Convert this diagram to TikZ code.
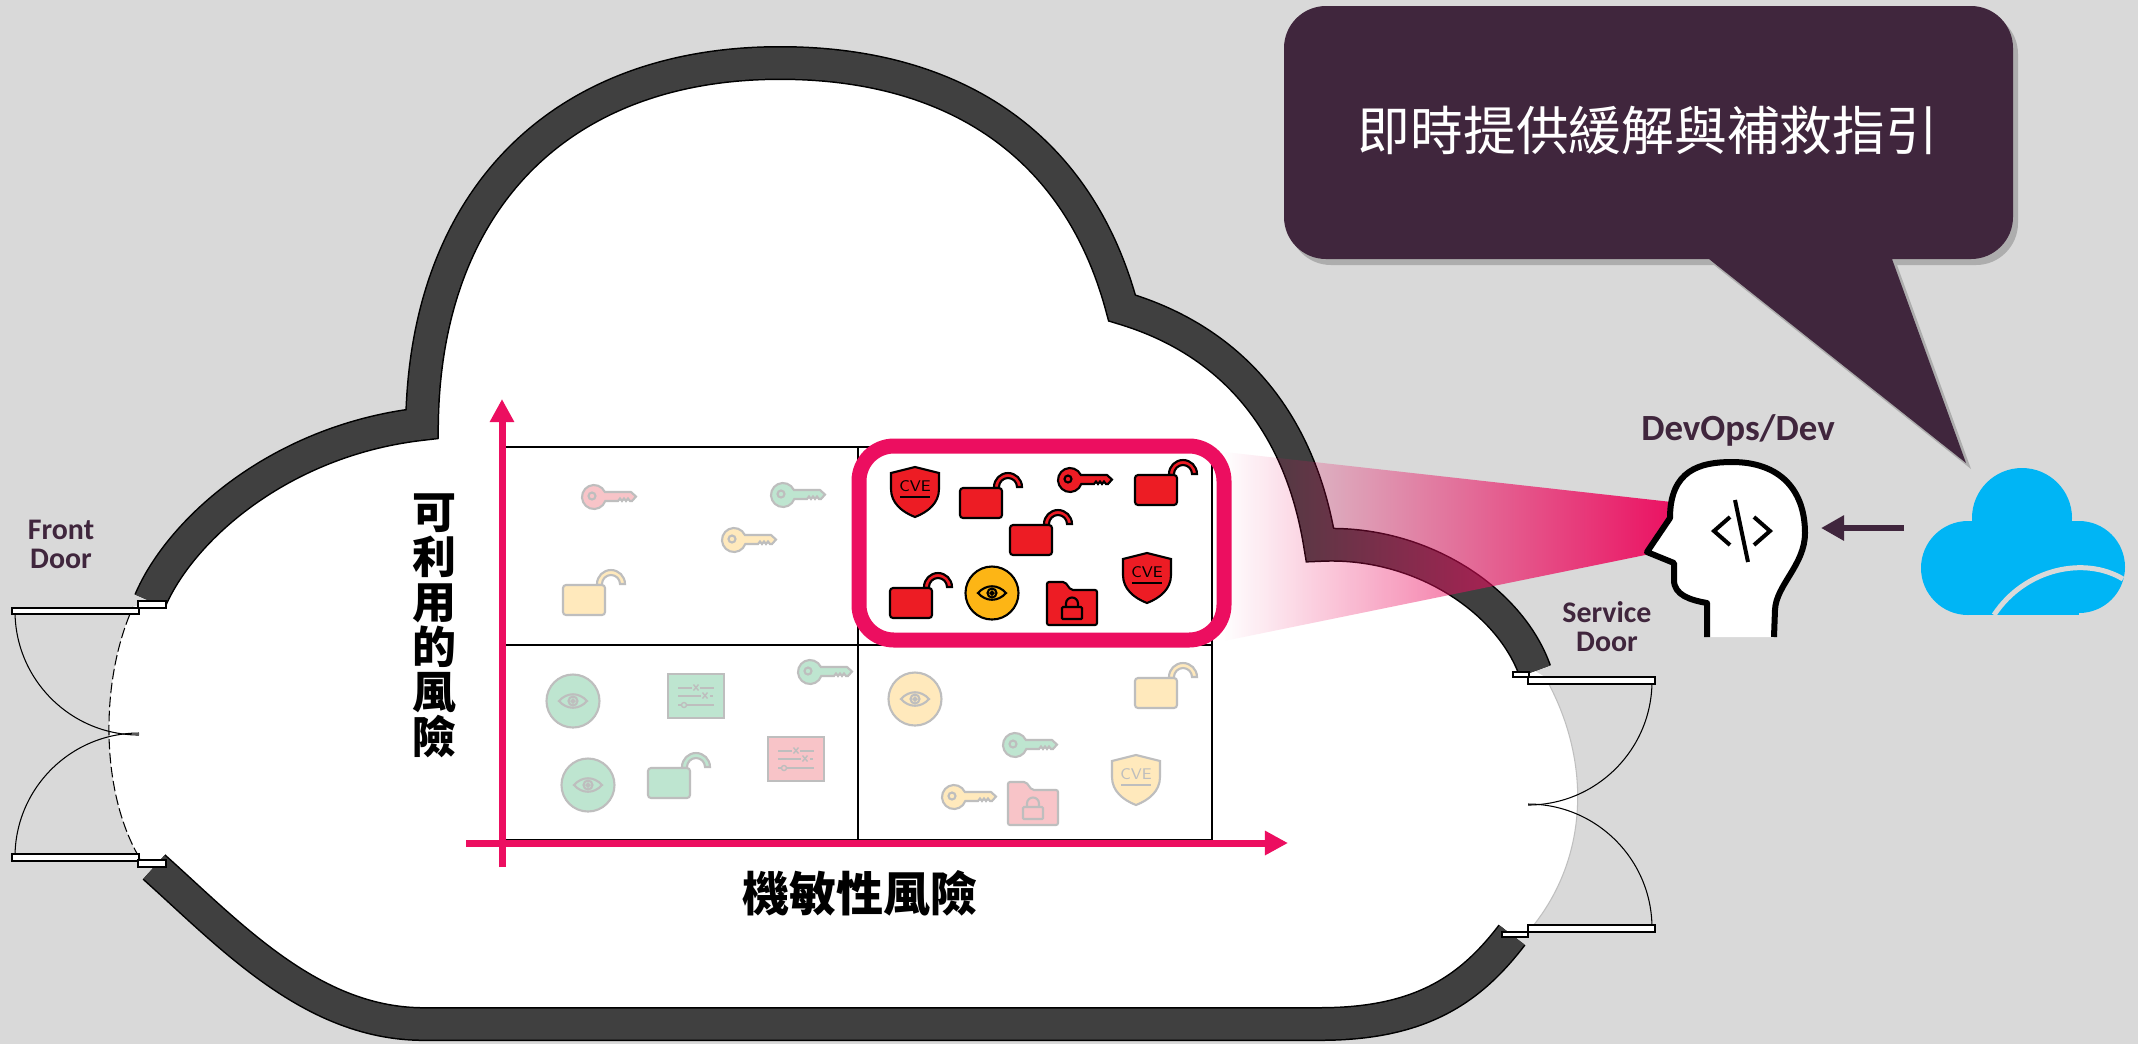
\documentclass[tikz,border=0pt]{standalone}
\usepackage{fontspec}
\usetikzlibrary{arrows.meta, fadings}
\newfontfamily\cjk{Noto Sans CJK TC}
\newfontfamily\lbl{Carlito}

\definecolor{bgcol}{RGB}{217,217,217}
\definecolor{wallcol}{RGB}{64,64,64}
\definecolor{plum}{RGB}{64,38,61}
\definecolor{hotpink}{RGB}{236,14,96}
\definecolor{hotred}{RGB}{237,28,36}
\definecolor{hotamber}{RGB}{253,181,21}
\definecolor{dimpink}{RGB}{248,196,200}
\definecolor{dimgreen}{RGB}{190,229,208}
\definecolor{dimyellow}{RGB}{255,233,188}
\definecolor{dimline}{RGB}{190,190,190}
\definecolor{skyblue}{RGB}{0,181,245}

\tikzfading[name=beamfade, left color=transparent!100, right color=transparent!0]

\tikzset{
  wall/.style={line width=0.015cm, double=wallcol, double distance=0.31cm},
  leaf/.style={draw=black, fill=white, line width=0.5pt},
  swing/.style={line width=0.3pt},
  grid/.style={line width=0.75pt},
  axis/.style={hotpink, line width=0.07cm, -{Triangle[length=0.23cm, width=0.23cm]}},
  % icon looks (pics come out y-up, so flip them)
  dim/.style={yscale=-1, draw=dimline, line width=0.6pt, text=dimline},
  hot/.style={yscale=-1, draw=black, line width=0.6pt, text=black},
  tag/.style={font=\lbl\bfseries\fontsize{8.5pt}{8.2pt}\selectfont, text=plum, align=center},
  % icons, drawn in pixel units
  keyicon/.pic={
    \filldraw (11.3,4) arc[start angle=19.5, end angle=335.4, radius=12] -- (37,-5) -- (42,-0.5)
      -- (38,4) -- (36,4) -- (34,1.5) -- (32,4) -- (30,1.5) -- (28,4) -- (26,1.5) -- (24,4) -- cycle;
    \draw (-2,-1) circle (3.5);
  },
  lockicon/.pic={
    \filldraw (34,0) -- (34,-1) arc[start angle=180, end angle=360, radius=14] -- (57,-1)
      arc[start angle=0, end angle=-180, radius=9] -- (39,0) -- cycle;
    \filldraw[rounded corners=0.03cm] (0,0) rectangle (42,30);
  },
  eyeicon/.pic={
    \filldraw (0,0) circle (26.5);
    \draw (-14,0) .. controls (-6,-9) and (6,-9) .. (14,0) .. controls (6,9) and (-6,9) .. (-14,0) -- cycle;
    \draw (0,0) circle (4.5);
    \draw (0,0) circle (1.5);
  },
  cveicon/.pic={
    \filldraw (0,0) -- (24,6) -- (24,22) .. controls (24,36) and (13,45) .. (0,50)
      .. controls (-13,45) and (-24,36) .. (-24,22) -- (-24,6) -- cycle;
    \node (-txt) [font=\sffamily\fontsize{4.4pt}{5pt}\selectfont, inner sep=0] at (0,19) {CVE};
    \draw (-15,30) -- (15,30);
  },
  foldericon/.pic={
    \filldraw[rounded corners=0.02cm] (0,43) -- (0,0) -- (18,0) -- (24,8) -- (50,8) -- (50,43) -- cycle;
    \draw (19,25) -- (19,21.5) arc[start angle=180, end angle=360, radius=6] -- (31,25);
    \draw[rounded corners=0.01cm] (15,25) rectangle (35,37);
  },
  cardicon/.pic={
    \filldraw (0,0) rectangle (56,44);
    \begin{scope}[line width=0.4pt]
    \draw (10,14) -- (24,14) (32,14) -- (46,14);
    \draw (25.5,10.5) -- (30.5,16.5) (25.5,16.5) -- (30.5,10.5);
    \draw (10,22) -- (33,22) (42,22) -- (45,22);
    \draw (34.5,18.5) -- (39.5,24.5) (34.5,24.5) -- (39.5,18.5);
    \draw (10,31) -- (13,31) (19,31) -- (46,31);
    \draw (16,31) circle (2.5);
    \end{scope}
  }
}

\begin{document}
\begin{tikzpicture}[x=0.01cm, y=0.01cm, yscale=-1]
\useasboundingbox (0,0) rectangle (2138,1044);
\fill[bgcol] (0,0) rectangle (2138,1044);

% Inside of the cloud, doorways included
\fill[white] (150,601) .. controls (180,530) and (280,440) .. (422,424)
  .. controls (425,200) and (560,63) .. (780,63)
  .. controls (960,63) and (1080,150) .. (1122,308)
  .. controls (1230,340) and (1300,420) .. (1320,545)
  .. controls (1420,540) and (1510,600) .. (1535,671)
  -- (1545,677) .. controls (1592,760) and (1590,860) .. (1528,932)
  -- (1512,935) .. controls (1470,990) and (1420,1024) .. (1320,1024)
  -- (420,1024) .. controls (310,1022) and (230,935) .. (154,867)
  -- (139,857) .. controls (100,790) and (100,680) .. (133,607) -- cycle;
\draw[line width=0.3pt, dash pattern=on 3pt off 1pt] (139,857) .. controls (100,790) and (100,680) .. (133,607);
\draw[black!25, line width=0.3pt] (1545,677) .. controls (1592,760) and (1590,860) .. (1528,932);

% Door swings
\draw[swing] (15,611) arc[start angle=180, end angle=90, radius=124];
\draw[swing] (15,857) arc[start angle=180, end angle=270, radius=124];
\draw[swing] (1652,681) arc[start angle=0, end angle=90, radius=124];
\draw[swing] (1652,928) arc[start angle=0, end angle=-90, radius=124];

% Walls of the cloud
\draw[wall] (150,601) .. controls (180,530) and (280,440) .. (422,424)
  .. controls (425,200) and (560,63) .. (780,63)
  .. controls (960,63) and (1080,150) .. (1122,308)
  .. controls (1230,340) and (1300,420) .. (1320,545)
  .. controls (1420,540) and (1510,600) .. (1535,671);
\draw[wall] (154,867) .. controls (230,935) and (310,1022) .. (420,1024)
  -- (1320,1024) .. controls (1420,1024) and (1470,990) .. (1512,935);

% Door leaves and jambs
\draw[leaf] (138,601) rectangle (166,608);
\draw[leaf] (12,608) rectangle (139,614);
\draw[leaf] (12,854) rectangle (139,861);
\draw[leaf] (138,860) rectangle (166,867);
\draw[leaf] (1513,672) rectangle (1529,677);
\draw[leaf] (1528,677) rectangle (1655,684);
\draw[leaf] (1528,925) rectangle (1655,932);
\draw[leaf] (1502,932) rectangle (1528,937);

% Risk matrix
\draw[grid] (505,447) rectangle (1212,840);
\draw[grid] (858,447) -- (858,840);
\draw[grid] (505,645) -- (1212,645);

% Axes
\coordinate (yfoot) at (502,867);
\coordinate (ytop) at (502,399);
\coordinate (xfoot) at (466,843);
\coordinate (xtip) at (1288,843);
\draw[axis] (yfoot) -- (ytop);
\draw[axis] (xfoot) -- (xtip);

% Low exploitability, low sensitivity
\pic[dim, fill=dimpink] at (594,497) {keyicon};
\pic[dim, fill=dimgreen] at (783,495) {keyicon};
\pic[dim, fill=dimyellow] at (734,540) {keyicon};
\pic[dim, fill=dimyellow] at (563,585) {lockicon};
\pic[dim, fill=dimgreen] at (573,701) {eyeicon};
\pic[dim, fill=dimgreen] at (668,674) {cardicon};
\pic[dim, fill=dimgreen] at (810,672) {keyicon};
\pic[dim, fill=dimgreen] at (588,785) {eyeicon};
\pic[dim, fill=dimgreen] at (648,768) {lockicon};
\pic[dim, fill=dimpink] at (768,737) {cardicon};
\pic[dim, fill=dimyellow] at (915,699) {eyeicon};
\pic[dim, fill=dimyellow] at (1135,678) {lockicon};
\pic[dim, fill=dimgreen] at (1015,745) {keyicon};
\pic (cveC) [dim, fill=dimyellow] at (1136,755) {cveicon};
\pic[dim, fill=dimyellow] at (954,797) {keyicon};
\pic[dim, fill=dimpink] at (1008,782) {foldericon};

% The risky corner
\pic (cveA) [hot, fill=hotred] at (915,467) {cveicon};
\pic[hot, fill=hotred] at (960,488) {lockicon};
\pic[hot, fill=hotred] at (1070,480) {keyicon};
\pic[hot, fill=hotred] at (1135,475) {lockicon};
\pic[hot, fill=hotred] at (1010,525) {lockicon};
\pic[hot, fill=hotred] at (890,588) {lockicon};
\pic[hot, fill=hotamber] at (992,593) {eyeicon};
\pic[hot, fill=hotred] at (1047,582) {foldericon};
\pic (cveB) [hot, fill=hotred] at (1147,553) {cveicon};

% Beam from the cell to the developer
\fill[hotpink, path fading=beamfade] (1224,452) -- (1680,503) -- (1660,552) -- (1224,641) -- cycle;
\draw[hotpink, line width=0.15cm, rounded corners=0.35cm] (859,446) rectangle (1224,640);

% Developer head
\filldraw[fill=white, line width=0.06cm, line join=round] (1707,637) -- (1707,603)
  .. controls (1690,600) and (1674,595) .. (1674,580) -- (1674,563) -- (1647,552) -- (1670,518)
  .. controls (1670,470) and (1700,462) .. (1732,462)
  .. controls (1780,462) and (1805,490) .. (1805,533)
  .. controls (1805,565) and (1776,585) .. (1775,610) -- (1774,637);
\draw[line width=0.04cm] (1730,517) -- (1714,531) -- (1730,545);
\draw[line width=0.04cm] (1735,500) -- (1748,562);
\draw[line width=0.04cm] (1754,517) -- (1770,531) -- (1754,545);

% Cloud service
\fill[skyblue] (2022,518) circle (50);
\fill[skyblue] (1968,568) circle (47);
\fill[skyblue] (2079,567) circle (46);
\fill[skyblue] (1968,521) rectangle (2079,615);
\draw[bgcol, line width=0.05cm] (1994,615) .. controls (2025,568) and (2085,556) .. (2123,579);

\coordinate (sky) at (1904,528);
\coordinate (headback) at (1821,528);
\draw[plum, line width=0.06cm, -{Triangle[length=0.23cm, width=0.24cm]}] (sky) -- (headback);

% Speech bubble
\begin{scope}[shift={(5,6)}]
\fill[black, opacity=0.2] (1709,259) -- (1966,463) -- (1892,259) -- (1971,259)
  arc[start angle=90, end angle=0, radius=42] -- (2013,48)
  arc[start angle=0, end angle=-90, radius=42] -- (1326,6)
  arc[start angle=270, end angle=180, radius=42] -- (1284,217)
  arc[start angle=180, end angle=90, radius=42] -- cycle;
\end{scope}
\fill[plum] (1709,259) -- (1966,463) -- (1892,259) -- (1971,259)
  arc[start angle=90, end angle=0, radius=42] -- (2013,48)
  arc[start angle=0, end angle=-90, radius=42] -- (1326,6)
  arc[start angle=270, end angle=180, radius=42] -- (1284,217)
  arc[start angle=180, end angle=90, radius=42] -- cycle;
\node (advice) [font=\cjk\fontsize{15pt}{18pt}\selectfont, text=white] at (1648,130) {即時提供緩解與補救指引};

% Labels
\node (devops) [tag, font=\lbl\bfseries\fontsize{10.5pt}{12pt}\selectfont] at (1738,430) {DevOps/Dev};
\node (front) [tag] at (61,544) {Front\\Door};
\node (service) [tag] at (1607,627) {Service\\Door};
\node (exploit) [font=\cjk\bfseries\fontsize{12.5pt}{12.8pt}\selectfont, align=center, inner sep=0] at (434,626) {可\\利\\用\\的\\風\\險};
\node (sensitive) [font=\cjk\bfseries\fontsize{13.4pt}{16pt}\selectfont] at (860,893) {機敏性風險};
\end{tikzpicture}
\end{document}
